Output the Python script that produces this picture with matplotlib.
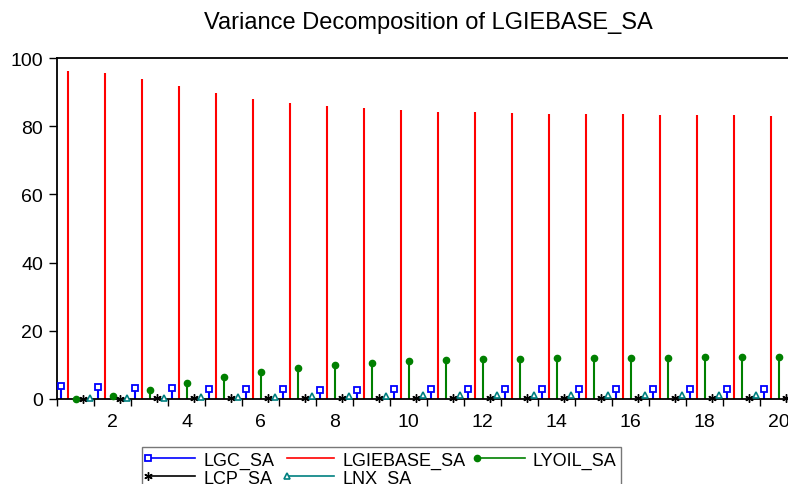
import matplotlib
matplotlib.use("Agg")
import matplotlib.pyplot as plt
import numpy as np
from matplotlib.legend_handler import HandlerLine2D
from matplotlib.lines import Line2D

plt.rcParams['font.family'] = ['Liberation Sans', 'DejaVu Sans']

periods = list(range(1, 21))
lgc = [3.7, 3.6, 3.3, 3.1, 2.9, 2.8, 2.8, 2.7, 2.7, 2.8, 2.8, 2.8, 2.8, 2.8, 2.8, 2.8, 2.8, 2.8, 2.8, 2.8]
lgiebase = [96.2, 95.5, 93.8, 91.7, 89.6, 88.0, 86.8, 85.9, 85.2, 84.7, 84.3, 84.1, 83.9, 83.7, 83.6, 83.5, 83.4, 83.3, 83.2, 83.1]
lyoil = [0.1, 0.8, 2.5, 4.6, 6.5, 8.0, 9.2, 10.0, 10.6, 11.1, 11.4, 11.6, 11.8, 11.9, 12.0, 12.1, 12.1, 12.2, 12.2, 12.2]
lcp = [0.1, 0.1, 0.2, 0.2, 0.2, 0.2, 0.2, 0.2, 0.2, 0.2, 0.2, 0.2, 0.2, 0.2, 0.2, 0.2, 0.2, 0.2, 0.2, 0.2]
lnx = [0.2, 0.3, 0.4, 0.5, 0.6, 0.7, 0.8, 0.9, 1.0, 1.05, 1.1, 1.15, 1.2, 1.2, 1.25, 1.25, 1.3, 1.3, 1.3, 1.3]
names = ['LGC_SA', 'LGIEBASE_SA', 'LYOIL_SA', 'LCP_SA', 'LNX_SA']
title = 'Variance Decomposition of LGIEBASE_SA'
ytick_vals = [0, 20, 40, 60, 80, 100]
xlabel_periods = [2, 4, 6, 8, 10, 12, 14, 16, 18, 20]

series = [lgc, lgiebase, lyoil, lcp, lnx]
colors = ['#0000ff', '#ff0000', '#008000', '#000000', '#008080']
markers = [dict(marker='s', mfc='white', mec='#0000ff', ms=5, mew=1.3),
           dict(marker=None),
           dict(marker='o', mfc='#008000', mec='#008000', ms=4.5),
           dict(marker=(6, 2, 0), mfc='black', mec='black', ms=6, mew=1.0),
           dict(marker='^', mfc='white', mec='#008080', ms=5, mew=1.2)]

W, H = 788, 485
fig = plt.figure(figsize=(W / 100, H / 100), dpi=100)
ax = fig.add_axes([57 / W, 1 - 400 / H, 740 / W, 341 / H])

p = np.array(periods, dtype=float)
handles = []
for j, (vals, c, mk, nm) in enumerate(zip(series, colors, markers, names)):
    x = p - 1 + 0.1 + 0.2 * j
    ax.vlines(x, 0, vals, colors=c, lw=1.5, zorder=2)
    if mk.get('marker') is not None:
        ax.plot(x, vals, ls='none', zorder=3, clip_on=False, **mk)
    handles.append(Line2D([], [], color=c, lw=1.2, **mk))

ax.set_xlim(0, 20)
ax.set_ylim(0, 100)
ax.set_yticks(ytick_vals)
ax.tick_params(axis='y', direction='out', length=6, width=1, pad=4, labelsize=14)
ax.set_xticks(np.arange(0, 21))
ax.set_xticklabels([])
ax.tick_params(axis='x', which='major', direction='out', length=5, width=1)
ax.set_xticks([k - 0.5 for k in xlabel_periods], minor=True)
ax.set_xticklabels([str(k) for k in xlabel_periods], minor=True)
ax.tick_params(axis='x', which='minor', length=0, pad=10, labelsize=14)
for s in ['top', 'left', 'bottom']:
    ax.spines[s].set_linewidth(1.3)
ax.spines['right'].set_visible(False)

fig.text(428 / W, 1 - 23 / H, title, ha='center', va='center', fontsize=17)


class LeftMarkerHandler(HandlerLine2D):
    def create_artists(self, legend, orig_handle, xdescent, ydescent,
                       width, height, fontsize, trans):
        arts = super().create_artists(legend, orig_handle, xdescent, ydescent,
                                      width, height, fontsize, trans)
        for a in arts:
            xd = np.linspace(-xdescent + 1, -xdescent + width, 3)
            a.set_xdata(xd)
            a.set_markevery([0])
        return arts


order = [0, 3, 1, 4, 2]
leg = fig.legend([handles[i] for i in order], [names[i] for i in order], ncol=3,
                 loc='upper left',
                 bbox_to_anchor=(142 / W, 1 - 448 / H), bbox_transform=fig.transFigure,
                 fontsize=13, handlelength=2.7, handletextpad=0.45, columnspacing=0.6,
                 labelspacing=0.05, borderpad=0.25, borderaxespad=0,
                 frameon=True, fancybox=False, edgecolor='#555555',
                 handler_map={Line2D: LeftMarkerHandler(numpoints=1)})
leg.get_frame().set_linewidth(1.0)

fig.savefig('out.png', dpi=100)
